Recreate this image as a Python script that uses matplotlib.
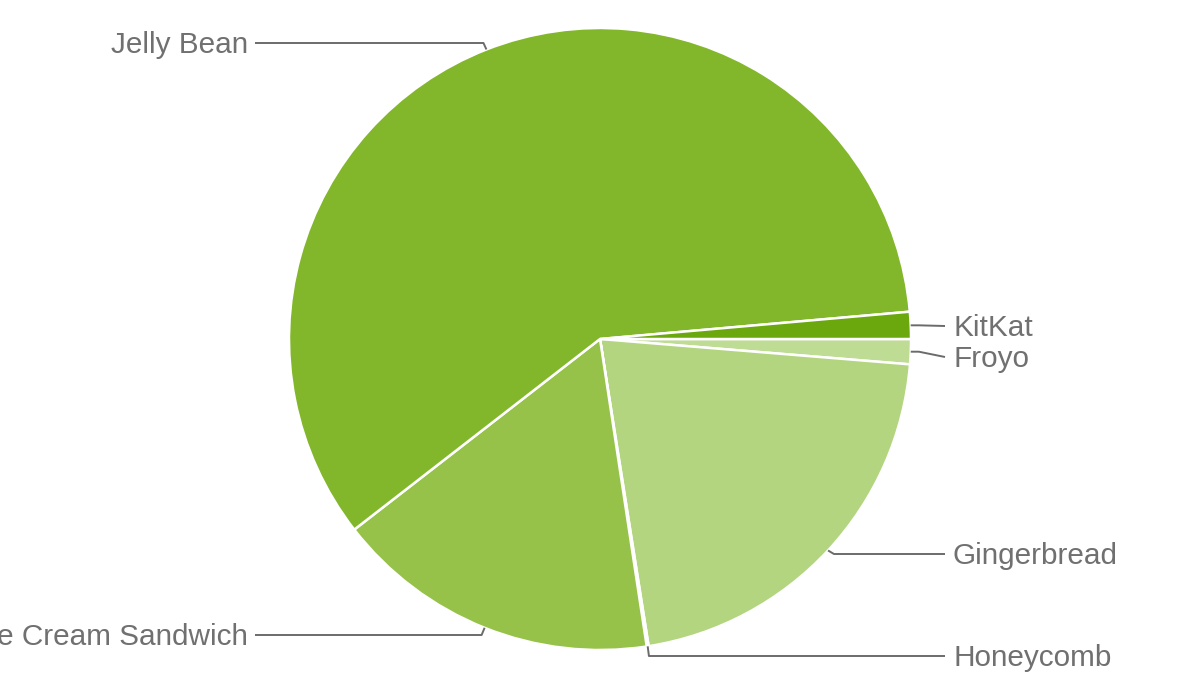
import numpy as np
import matplotlib
matplotlib.use("Agg")
import matplotlib.pyplot as plt

# Data (Android platform distribution, Jan 2014)
versions = ["Froyo", "Gingerbread", "Honeycomb", "Ice Cream Sandwich", "Jelly Bean", "KitKat"]
shares = [1.3, 21.2, 0.1, 16.9, 59.1, 1.4]

# Styles / layout
colors = ["#bfdc94", "#b3d57f", "#a9cf6c", "#97c24a", "#82b62b", "#6aa80e"]
label_y_px = [357, 554, 656, 635, 43, 326]   # leader line y positions (pixels from top)
label_side = ["r", "r", "r", "l", "l", "r"]

W, H, DPI = 1199, 675, 100
cx_px, cy_px, r_px = 600, 339, 311

fig = plt.figure(figsize=(W / DPI, H / DPI), dpi=DPI)
ax = fig.add_axes([0, 0, 1, 1])

wedges, _ = ax.pie(shares, colors=colors, startangle=0, counterclock=False,
                   radius=1.0,
                   wedgeprops=dict(edgecolor="white", linewidth=1.8))

ax.set_xlim(-cx_px / r_px, (W - cx_px) / r_px)
ax.set_ylim(-(H - cy_px) / r_px, cy_px / r_px)
ax.set_aspect("auto")
ax.axis("off")

def px_to_data(x, y):
    return (x - cx_px) / r_px, (cy_px - y) / r_px

line_color = "#6b6b6b"
text_color = "#707070"
right_line_end, right_text_x = 945, 953
left_line_end, left_text_x = 255, 248

for w, name, ly, side in zip(wedges, versions, label_y_px, label_side):
    mid = np.deg2rad((w.theta1 + w.theta2) / 2)
    ax_, ay_ = np.cos(mid), np.sin(mid)
    ex, ey = ax_ * 1.026, ay_ * 1.026
    _, ly_d = px_to_data(0, ly)
    _, ty_d = px_to_data(0, ly + 2)
    if side == "r":
        lx_d, _ = px_to_data(right_line_end, 0)
        tx_d, _ = px_to_data(right_text_x, 0)
        ha = "left"
    else:
        lx_d, _ = px_to_data(left_line_end, 0)
        tx_d, _ = px_to_data(left_text_x, 0)
        ha = "right"
    if abs(ax_) > 0.9:
        xs = [ax_, ex, lx_d]
        ys = [ay_, ay_, ly_d]
    else:
        xs = [ax_, ex, lx_d]
        ys = [ay_, ly_d, ly_d]
    ax.plot(xs, ys, color=line_color, lw=1.4, solid_capstyle="butt", clip_on=False)
    ax.text(tx_d, ty_d, name, ha=ha, va="center", fontsize=21.4,
            family=["Liberation Sans", "DejaVu Sans"], color=text_color)

fig.savefig("out.png", dpi=DPI, facecolor="white")
